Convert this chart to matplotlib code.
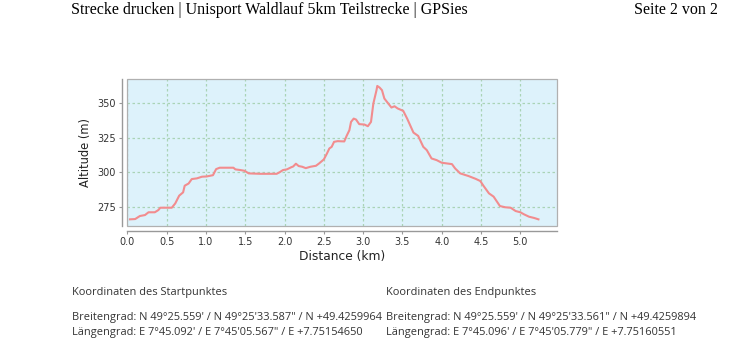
import matplotlib
matplotlib.use("Agg")
import matplotlib.pyplot as plt
from matplotlib.patches import Rectangle

# ---- data ----
distance_km = [0.034, 0.10, 0.16, 0.225, 0.27, 0.35, 0.395, 0.42, 0.566, 0.61, 0.66, 0.71, 0.73,
               0.78, 0.82, 0.885, 0.95, 1.01, 1.09, 1.13, 1.175, 1.35, 1.375, 1.44, 1.49, 1.545,
               1.69, 1.90, 1.94, 1.98, 2.03, 2.08, 2.11, 2.145, 2.18, 2.225, 2.27, 2.33, 2.40,
               2.44, 2.50, 2.54, 2.57, 2.60, 2.63, 2.675, 2.76, 2.79, 2.825, 2.846, 2.88, 2.91,
               2.95, 3.017, 3.06, 3.10, 3.13, 3.17, 3.18, 3.21, 3.24, 3.27, 3.31, 3.36, 3.40,
               3.44, 3.51, 3.56, 3.64, 3.70, 3.765, 3.81, 3.87, 3.935, 4.00, 4.13, 4.17, 4.235,
               4.34, 4.43, 4.49, 4.53, 4.60, 4.66, 4.74, 4.81, 4.876, 4.94, 5.00, 5.047, 5.11,
               5.175, 5.23]
altitude_m = [266.1, 266.3, 268.5, 269.2, 271.2, 271.2, 272.8, 274.5, 274.5, 277.6, 283.2, 285.6, 290.4,
              292.0, 295.2, 295.7, 296.9, 297.1, 298.0, 302.4, 303.4, 303.4, 302.2, 301.7, 301.2, 299.3,
              299.0, 299.0, 300.2, 301.7, 302.2, 303.6, 304.3, 306.3, 304.6, 304.1, 303.1, 304.1, 304.8,
              306.5, 309.4, 313.7, 317.3, 318.5, 322.1, 322.6, 322.4, 326.4, 330.5, 336.5, 338.9, 338.2,
              334.9, 334.6, 333.4, 336.5, 349.8, 359.4, 362.5, 361.3, 359.4, 353.4, 350.5, 346.9, 347.8,
              346.2, 344.5, 338.9, 328.8, 326.4, 318.5, 316.1, 310.1, 308.9, 307.0, 306.0, 302.9, 299.3,
              297.4, 295.4, 293.8, 290.4, 284.9, 282.5, 275.7, 274.8, 274.5, 272.1, 271.2, 269.7, 268.0,
              267.1, 266.1]
x_ticks = [0.0, 0.5, 1.0, 1.5, 2.0, 2.5, 3.0, 3.5, 4.0, 4.5, 5.0]
y_ticks = [275, 300, 325, 350]

header_left = "Strecke drucken | Unisport Waldlauf 5km Teilstrecke | GPSies"
header_right = "Seite 2 von 2"
start_title = "Koordinaten des Startpunktes"
end_title = "Koordinaten des Endpunktes"
start_lat = "Breitengrad: N 49°25.559' / N 49°25'33.587\" / N +49.4259964"
start_lon = "Längengrad: E 7°45.092' / E 7°45'05.567\" / E +7.75154650"
end_lat = "Breitengrad: N 49°25.559' / N 49°25'33.561\" / N +49.4259894"
end_lon = "Längengrad: E 7°45.096' / E 7°45'05.779\" / E +7.75160551"

W, H = 734, 355
fig = plt.figure(figsize=(W / 100, H / 100), dpi=100)
fig.patch.set_facecolor("white")

left, right, top, bottom = 127.3, 557.3, 79.3, 225.7
ax = fig.add_axes([left / W, 1 - bottom / H, (right - left) / W, (bottom - top) / H])
ax.set_facecolor("#ddf2fb")

ax.plot(distance_km, altitude_m, color="#f28c8e", lw=1.5, solid_joinstyle="round", zorder=3)

ax.set_xlim(0, 5.47)
ax.set_ylim(261.5, 367.3)
ax.set_xticks(x_ticks)
ax.set_xticklabels([f"{t:.1f}" for t in x_ticks])
ax.set_yticks(y_ticks)
ax.set_yticklabels([str(t) for t in y_ticks])

ax.grid(True, color="#aad3b6", linestyle=(0, (2, 2)), linewidth=0.9)
ax.set_axisbelow(True)

for s in ["top", "right"]:
    ax.spines[s].set_visible(False)
for s in ["left", "bottom"]:
    ax.spines[s].set_position(("outward", 3.6))
    ax.spines[s].set_color("#999999")
    ax.spines[s].set_linewidth(1.0)

ax.add_patch(Rectangle((0, 0), 1, 1, transform=ax.transAxes, fill=False,
                       edgecolor="#b0b0b0", lw=0.9, clip_on=False, zorder=4))

ax.tick_params(axis="both", labelsize=7, colors="#999999", labelcolor="#333333",
               length=2, width=0.8, pad=2.5)

ax.set_xlabel("Distance (km)", fontsize=8.8, color="#222222", labelpad=2)
ax.set_ylabel("Altitude (m)", fontsize=8.3, color="#222222", labelpad=4)

serif = ["Liberation Serif", "DejaVu Serif"]
fig.text(71 / W, 1 - 9.5 / H, header_left, family=serif, fontsize=11.5, va="center",
         ha="left", color="black")
fig.text(718 / W, 1 - 9.5 / H, header_right, family=serif, fontsize=11.5, va="center",
         ha="right", color="black")

sans = ["Open Sans", "DejaVu Sans"]
kw = dict(family=sans, fontsize=7.9, va="center", ha="left", color="#333333")
fig.text(72 / W, 1 - 293 / H, start_title, **kw)
fig.text(72 / W, 1 - 317.5 / H, start_lat, **kw)
fig.text(72 / W, 1 - 333 / H, start_lon, **kw)
fig.text(386 / W, 1 - 293 / H, end_title, **kw)
fig.text(386 / W, 1 - 317.5 / H, end_lat, **kw)
fig.text(386 / W, 1 - 333 / H, end_lon, **kw)

fig.savefig("out.png", dpi=100)
